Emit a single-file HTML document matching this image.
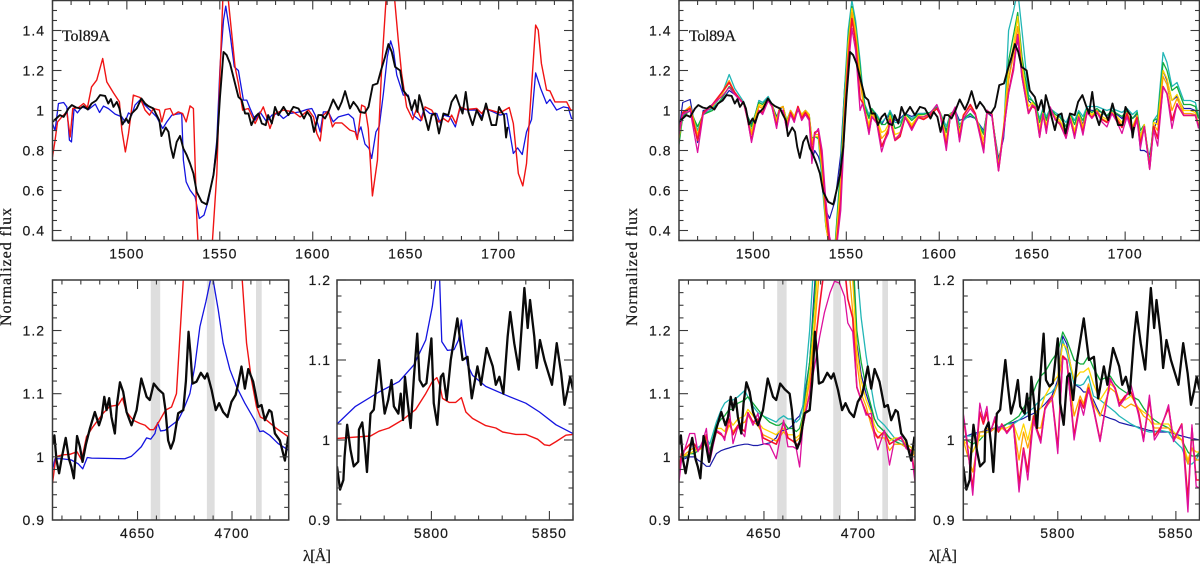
<!DOCTYPE html>
<html><head><meta charset="utf-8"><title>Tol89A spectra</title>
<style>
html,body{margin:0;padding:0;background:#fff;width:1200px;height:565px;overflow:hidden}
svg{display:block}
text{fill:#1a1a1a;stroke:#1a1a1a;stroke-width:.2px;font-family:"Liberation Sans",sans-serif;font-size:14px;letter-spacing:1px}
text.lab{font-family:"Liberation Serif",serif;font-size:16px;letter-spacing:0;stroke-width:.25px}
</style></head>
<body>
<svg id="chart" xmlns="http://www.w3.org/2000/svg" width="1200" height="565" viewBox="0 0 1200 565"></svg>
<script>
// ---------- UV panels (upper) ----------
const uvBlackLam=[1460,1462,1464,1466,1468.6,1470.4,1472.7,1475,1476.7,1479,
1481,1483.5,1485.6,1488.3,1490,1491.4,1492.8,1494.6,1496,1497.6,
1499.6,1500.9,1502.6,1505.3,1507.8,1509.8,1511.6,1514.3,1516,1517.5,
1518.6,1520.9,1522.4,1523.6,1525,1526.8,1528.6,1530.4,1532.2,1534,
1535.8,1537.6,1540.3,1543,1544.8,1546.6,1548.4,1550.1,1552,1553.7,
1555.5,1557.3,1560,1561.8,1563.6,1565.4,1567,1569,1570.8,1572.6,
1574.7,1576,1578,1579.7,1581.5,1584.3,1586.9,1589.6,1592.3,1595.3,
1597,1599,1600.7,1603,1604.8,1606.6,1608.4,1611,1613.8,1615.6,
1617.4,1620,1621.9,1624,1625.4,1628,1630,1632.3,1634.8,1636.7,
1638.9,1640.7,1642.5,1644.3,1647,1648.7,1651.4,1653.2,1655,1656.3,
1657.3,1658.6,1660.4,1662.2,1664,1665.8,1667.9,1670.3,1672.9,1674.7,
1677,1679.2,1680.6,1682.3,1683.7,1686,1688.2,1690.9,1693.2,1696.2,
1698.6,1700.2,1701.6,1702.9,1704,1704.8];
const uvBlackFlux=[.943,.96,.977,.968,1.01,1.027,1.015,1.01,1.022,1.005,
1.035,1.05,1.077,1.073,1.035,1.057,1.018,1.043,1.01,.93,
.96,.938,.985,1.01,1.06,1.035,1.022,1.01,.977,.95,
.872,.915,.893,.818,.763,.843,.873,.81,.777,.735,
.685,.593,.543,.53,.602,.677,.818,1.068,1.293,1.277,
1.235,1.168,1.068,1.052,.985,.985,.927,.968,.985,.935,
.927,.977,.935,1.018,.977,1.018,.977,1.018,1.01,.96,
.993,.968,.893,.977,.977,.96,.993,1.055,1.005,1.043,
1.097,1.01,1.043,1.018,.993,.988,1.018,1.127,1.135,1.2,
1.268,1.332,1.293,1.218,1.2,1.1,1.068,1.002,1.052,.993,
1.077,1.035,.968,.902,.977,.985,.885,.985,.977,1.043,
1.077,1.018,.985,1.093,.993,.927,1.002,.952,1.035,.927,
.927,1.018,.993,.977,.865,.918];

const uvBlueLam=[1460,1461.4,1463.2,1466,1467.7,1469.1,1470.2,1471.6,1473.4,1475.8,
1479.4,1483,1485.3,1487.4,1490,1493.7,1497.3,1499,1500.9,1502.6,
1504.4,1507,1510.7,1513.4,1516,1519.3,1521.5,1524.2,1526.8,1529.5,
1530.4,1531.9,1534,1536.7,1539,1541.5,1543.9,1546.6,1548.4,1550.1,
1552,1553.2,1555.5,1557.8,1560,1562.7,1564.5,1566.3,1569,1571.6,
1575.2,1578,1581.5,1584.2,1587.8,1593,1596.8,1599.5,1601.3,1604,
1605.7,1608.4,1611,1613.8,1619.2,1621.9,1623.7,1625.9,1628.1,1630.3,
1631.7,1634,1635.8,1638,1640.1,1641.9,1643.4,1645.2,1648.7,1651.4,
1654,1658,1659.9,1663,1666.7,1668.5,1670.6,1673.8,1676.7,1679.2,
1683.7,1688.2,1690.9,1692.7,1697.1,1700.7,1704.3,1706.1,1707.9,1710.2,
1712.7,1715,1717.7,1719.9,1722.6,1725.8,1727.6,1731.2,1734.8,1737.5,
1739.2,1740];
const uvBlueFlux=[.935,.9,1.035,1.04,1.018,.852,.843,1.01,.988,1.018,
1.005,1.032,.99,1.022,1.01,.982,.968,.943,.988,.977,
1.027,1.052,1.018,.993,.968,.91,.943,.977,.982,.985,
.752,.643,.602,.568,.46,.477,.552,.685,.852,1.218,
1.452,1.522,1.385,1.218,1.2,1.052,1.052,1.01,.952,.993,
.943,.977,.985,.96,.985,.993,1.005,1.01,.977,.893,
.993,.993,.943,.968,.982,.96,.868,.918,.832,.81,
.76,.893,.922,1.085,1.268,1.348,1.302,1.177,1.077,1.077,
.977,.948,1.01,.985,.985,.938,.977,.968,.918,1.01,
1.002,1.002,.968,1.01,.993,.977,.985,.885,.785,.813,
.78,.893,.955,1.188,1.11,1.035,1.055,1.002,1.018,1.013,
.96,.96];

const uvRedLam=[1460,1461.4,1462.7,1465,1467.7,1469.5,1470.9,1474,1476.7,1478.8,
1481,1483.8,1487,1489.2,1492.8,1496,1497.3,1499.2,1500.9,1503.5,
1507.1,1509.8,1512.2,1514.3,1517.5,1518.8,1520.6,1523.3,1525,1527.7,
1530,1531.9,1534,1535.8,1537.6,1538.5,1541.5,1545.7,1548.4,1550.1,
1551.6,1553,1554.6,1556.4,1558.2,1560,1562.3,1565.4,1569,1571.6,
1573.4,1575.2,1577,1579.7,1584.2,1589.6,1593.2,1597.7,1600.4,1602.2,
1604,1605.7,1608.4,1610.6,1612,1615.6,1620,1622.8,1624,1626.3,
1628.1,1629.9,1632.1,1634.8,1637.1,1639.4,1641.5,1644.1,1646,1647.8,
1650.5,1653.8,1655.9,1658.6,1660.4,1664,1667.6,1670.3,1672.9,1674.7,
1677,1679.2,1682.8,1688.2,1690.9,1692.7,1697.1,1700.7,1705.7,1707.9,
1710.6,1713,1715,1717.7,1719.9,1721.3,1723,1725.8,1727.6,1730.3,
1736.6,1738.8,1740];
const uvRedFlux=[.768,.852,.943,.968,.993,.868,1.01,1.015,1.035,1.015,
1.118,1.152,1.26,1.143,1.088,1.043,.902,.793,.885,1.077,
1.065,1.002,.977,1.01,1.002,.943,1.005,1.01,.977,.993,
.985,.943,1.023,1.01,.468,.3,.2,.3,.685,1.185,
1.55,1.62,1.55,1.385,1.218,1.135,1.002,1.01,.935,.985,
1.018,.968,.91,.985,1.002,.993,.968,1.002,.968,.885,
.848,.977,.998,.918,.938,.938,.902,.893,.855,1.027,
1.018,.91,.573,.752,1.218,1.55,1.7,1.55,1.352,1.185,
1.018,.955,1.01,.952,1.018,1.002,.943,.96,.943,.977,
.935,1.018,1.005,1.01,.985,1.01,.998,.988,1.015,.935,
.685,.623,.735,1.118,1.427,1.402,1.235,1.102,1.098,1.043,
1.043,1.002,1.002];

const uvModelLam=[1460,1462,1466,1470,1473,1478,1483,1487,1490,1495,
1497,1499,1501,1503,1505,1508,1510,1512.5,1514,1516,
1518,1520,1522,1524,1526,1528,1530,1531.5,1533,1535,
1537,1539,1541,1544,1547,1549,1551,1553,1555,1557.4,
1558.7,1560,1562.2,1563.7,1566.4,1569,1570.9,1572.6,1573.5,1576.2,
1578.9,1581.6,1585.2,1588.8,1591.6,1595,1598.7,1600.5,1603.8,1605.9,
1608.6,1610.9,1613,1616.7,1619.4,1623.9,1625.7,1628.3,1631.9,1634.6,
1637.3,1640,1642.2,1644.5,1648,1650,1651.7,1654,1655.8,1657.6,
1659.7,1662.4,1665,1668.2,1670.5,1672.8,1675,1677.3,1679.5,1682.1,
1684.8,1687.5,1690.2,1692.9,1695.6,1698.3,1701,1704,1706.4,1708.2,
1710.3,1713.2,1715.3,1717.5,1720.4,1722.5,1725.2,1727.9,1731.5,1735.1,
1737.8,1739.5];
const uvNavy=[.90,1.04,1.055,.84,1.0,1.01,1.05,1.10,1.08,1.03,
.97,.93,.98,1.05,1.04,1.06,1.03,.97,1.0,1.02,
.93,.99,.96,1.0,.98,.99,.98,.75,.80,.77,
.70,.50,.46,.55,.78,1.1,1.35,1.50,1.4,1.22,
1.1,1.0,.97,1.0,.98,.93,.96,.97,1.0,.95,
.96,.985,.97,.985,.985,.99,1.01,.98,.90,.98,
1.0,.95,.96,.97,.96,.90,.99,.97,.76,.86,
1.15,1.3,1.35,1.2,1.05,1.03,1.01,.96,1.0,.96,
1.01,.98,.97,.92,.97,.95,.98,.93,1.01,1.0,
1.0,.99,.97,1.0,.98,.96,1.0,.96,.98,.80,
.80,.78,.90,.96,1.2,1.15,1.05,1.07,1.01,1.01,
1.0,.96];
const uvTeal=[.85,.98,1.02,.90,.98,1.01,1.08,1.18,1.11,1.04,
.96,.90,.98,1.05,1.04,1.07,1.03,.95,1.01,1.02,
.94,1.0,.97,1.01,.98,1.0,.98,.84,.87,.86,
.63,.42,.35,.33,.74,1.1,1.4,1.55,1.45,1.25,
1.12,1.03,.98,1.01,.98,.94,.96,.98,1.0,.94,
.94,.985,.96,.985,.985,.99,1.02,.99,.92,.98,
1.0,.93,.95,.98,.96,.89,.995,.98,.74,.88,
1.4,1.5,1.6,1.4,1.08,1.05,1.03,.96,1.01,.97,
1.01,.99,.975,.94,.985,.95,1.0,.97,1.02,1.02,
1.02,1.01,1.0,1.01,1.0,.99,1.01,.98,1.0,.88,
.92,.74,.95,.98,1.29,1.24,1.12,1.14,1.05,1.05,
1.04,.97];
const uvGreen=[.83,.97,1.0,.92,.98,1.0,1.06,1.12,1.09,1.03,
.97,.92,.98,1.04,1.03,1.06,1.03,.96,1.01,1.02,
.95,1.0,.97,1.0,.98,1.0,.98,.86,.87,.86,
.68,.42,.32,.33,.7,1.05,1.36,1.52,1.42,1.22,
1.09,1.02,.96,1.01,.97,.93,.93,.95,.99,.91,
.92,.985,.95,.98,.98,.99,1.015,.99,.89,.985,
1.0,.91,.96,.985,.96,.88,.995,.985,.73,.90,
1.25,1.38,1.49,1.27,1.06,1.05,1.03,.94,1.0,.95,
1.01,.98,.965,.92,.98,.93,.99,.95,1.01,.99,
1.01,.99,.975,1.0,.985,.97,1.0,.96,.99,.90,
.93,.73,.95,.96,1.24,1.2,1.1,1.12,1.03,1.03,
1.02,.96];
const uvYellow=[.86,.99,1.02,.88,.99,1.02,1.08,1.14,1.09,1.03,
.96,.89,.97,1.03,1.02,1.06,1.03,.95,1.01,1.02,
.94,1.0,.97,1.02,.98,1.0,.98,.85,.87,.87,
.7,.43,.3,.3,.65,1.02,1.33,1.51,1.4,1.18,
1.07,1.0,.93,.995,.96,.89,.90,.93,.975,.88,
.89,.975,.93,.975,.97,.985,1.01,.99,.86,.98,
1.0,.89,.98,1.02,.98,.85,1.0,.985,.72,.92,
1.2,1.33,1.47,1.23,1.02,1.04,1.02,.91,.99,.93,
1.0,.97,.95,.89,.97,.90,.98,.92,1.0,.98,
1.0,.97,.955,.99,.97,.94,.99,.92,.975,.87,
.93,.72,.94,.93,1.2,1.16,1.05,1.08,1.0,1.0,
.99,.93];
const uvOrange=[.87,.99,1.02,.87,.99,1.02,1.09,1.15,1.09,1.03,
.96,.88,.96,1.02,1.01,1.06,1.03,.94,1.01,1.02,
.93,1.0,.96,1.02,.97,1.0,.97,.83,.88,.88,
.72,.46,.3,.28,.6,1.0,1.3,1.49,1.38,1.15,
1.06,1.0,.91,.985,.95,.86,.88,.91,.97,.86,
.88,.97,.92,.97,.96,.98,1.01,.985,.84,.975,
1.0,.87,.975,1.025,.98,.82,.995,.98,.71,.91,
1.15,1.28,1.42,1.2,.995,1.03,1.01,.89,.985,.91,
1.0,.96,.94,.875,.965,.885,.97,.91,.995,.97,
1.0,.96,.945,.99,.96,.925,.985,.91,.97,.85,
.92,.71,.93,.90,1.17,1.13,1.0,1.06,.985,.985,
.98,.92];
const uvCrimson=[.89,.99,1.01,.85,.99,1.03,1.09,1.14,1.09,1.03,
.95,.85,.94,1.0,.99,1.05,1.02,.92,1.0,1.0,
.91,.99,.95,1.02,.96,.99,.96,.78,.89,.9,
.76,.5,.33,.25,.55,.95,1.25,1.46,1.34,1.06,
1.04,.99,.89,.97,.94,.82,.86,.90,.955,.85,
.87,.965,.91,.965,.955,.975,1.01,.98,.82,.97,
1.0,.855,.975,1.03,.985,.80,.99,.98,.70,.90,
1.09,1.22,1.38,1.17,.985,1.02,1.01,.87,.98,.90,
1.01,.955,.93,.865,.955,.87,.965,.89,.99,.965,
.99,.955,.94,.985,.955,.915,.985,.90,.965,.83,
.92,.71,.92,.86,1.12,1.085,.95,1.03,.975,.975,
.975,.92];
const uvMagenta=[.88,.98,1.0,.79,.98,1.03,1.07,1.115,1.08,1.03,
.95,.84,.93,1.0,.98,1.05,1.02,.91,1.0,1.0,
.90,.98,.94,1.01,.95,.98,.95,.735,.88,.91,
.80,.55,.37,.25,.5,.9,1.2,1.41,1.3,1.0,
1.035,.99,.88,.968,.935,.793,.852,.885,.952,.852,
.885,.968,.90,.968,.968,.985,1.03,.985,.80,.968,
1.018,.843,.96,1.01,.977,.788,1.002,.977,.697,.893,
1.085,1.2,1.377,1.168,.985,1.027,1.018,.865,.985,.885,
1.018,.952,.935,.86,.96,.86,.968,.877,.993,.96,
.993,.943,.918,.985,.943,.885,.968,.88,.952,.81,
.918,.705,.902,.822,1.118,1.085,.91,1.035,.977,.977,
.977,.91];

// ---------- He II 4686 panels (lower centre) ----------
const heBlackLam=[4605,4606,4607.1,4608.5,4610,4612,4613.7,4615,4616.3,4618,
4619.5,4620.9,4622.7,4624.8,4627.4,4629.6,4631,4632.4,4633.6,4635,
4636.2,4638,4639.2,4640.7,4642.4,4644.2,4646.8,4649.5,4652,4654.8,
4656.5,4658.6,4661,4663.6,4664.8,4666.2,4667.6,4669.2,4671.5,4674.2,
4675.6,4677,4678,4679.1,4681.2,4683.5,4685.6,4686.9,4689.2,4691.4,
4693.2,4695.3,4697.6,4699.7,4701.9,4703.3,4705,4706.8,4708.6,4711.2,
4713.8,4715.6,4717.4,4719.7,4720.9,4722.7,4725.3,4728,4729.7];
const heBlackFlux=[1.02,1.034,.995,.974,1.0,1.03,.997,.984,.966,1.033,
1.016,.992,1.02,1.045,1.071,1.05,1.063,1.095,1.074,1.093,
1.063,1.037,1.085,1.118,1.103,1.071,1.05,1.074,1.124,1.095,
1.09,1.116,1.107,1.1,1.074,1.026,1.013,1.026,1.069,1.074,
1.12,1.198,1.164,1.116,1.119,1.133,1.124,1.132,1.106,1.074,
1.085,1.071,1.063,1.087,1.098,1.116,1.143,1.108,1.139,1.119,
1.079,1.082,1.058,1.074,1.071,1.037,1.026,.994,1.032];

const heBlueLam=[4605,4606.3,4610,4615,4618.6,4621,4623.4,4625.7,4643.3,4646.8,
4648.6,4652,4654.8,4657,4659.2,4660.6,4662.2,4664.5,4668,4671.5,
4674.2,4677.7,4680.3,4683,4686.2,4688.6,4689.3,4690,4692.7,4695.3,
4698.9,4702.4,4706.8,4712,4714.7,4716.5,4720,4724.4,4729.7];
const heBlueFlux=[.979,.997,.997,.995,.989,.981,.999,.998,.997,1.001,
1.006,1.016,1.03,1.028,1.037,1.054,1.041,1.042,1.05,1.058,
1.074,1.1,1.143,1.206,1.246,1.28,1.295,1.28,1.233,1.18,
1.138,1.111,1.085,1.058,1.04,1.041,1.034,1.021,1.011];

const heRedLam=[4605,4606.8,4610,4614.2,4618,4620.4,4623,4626.5,4631.8,4635.4,
4639.8,4642,4644.2,4647.7,4651.2,4654,4656.5,4658.6,4661.8,4664.8,
4668,4670.6,4672.4,4674.2,4680,4690,4700,4705.4,4707.7,4710.3,
4713,4715,4718.3,4723.5,4729.7];
const heRedFlux=[.958,1.0,1.003,1.004,1.008,.995,1.032,1.048,1.069,1.08,
1.082,1.093,1.071,1.058,1.053,1.05,1.043,1.043,1.058,1.074,
1.079,1.1,1.19,1.28,1.7,2.4,1.7,1.28,1.18,1.122,
1.079,1.063,1.058,1.045,1.032];

const heModelLam=[4605,4606.3,4610.7,4613.3,4615,4617.7,4619.5,4621.3,4624.8,4627.4,
4629.2,4631.5,4633.6,4636.2,4639.8,4641.5,4644.2,4646.8,4649.5,4653,
4656.5,4658,4660.4,4662.7,4665.3,4667.1,4668.9,4670.6,4674.2,4676.8,
4679.5,4682,4685,4687.4,4690,4692.7,4694.4,4697,4699.2,4701.5,
4704.1,4706.8,4708.5,4710.3,4713.8,4716.5,4719.1,4722.7,4725.3,4728,
4730];
const heNavy=[.97,.995,1.0,1.0,.995,.99,.985,.985,1.005,1.01,
1.012,1.014,1.016,1.018,1.02,1.02,1.018,1.018,1.02,1.022,
1.03,1.04,1.042,1.044,1.05,1.06,1.065,1.08,1.15,1.27,
1.4,1.6,1.7,1.75,1.7,1.55,1.4,1.3,1.18,1.13,
1.1,1.075,1.06,1.05,1.04,1.03,1.025,1.02,1.015,1.01,
1.005];
const heTeal=[.98,.995,1.005,1.01,1.015,1.02,1.03,1.02,1.055,1.075,
1.085,1.09,1.09,1.095,1.105,1.095,1.08,1.07,1.065,1.06,
1.055,1.06,1.065,1.06,1.06,1.055,1.06,1.08,1.2,1.33,
1.5,1.7,1.8,1.85,1.8,1.7,1.55,1.42,1.3,1.22,
1.16,1.11,1.08,1.06,1.05,1.04,1.03,1.025,1.02,1.015,
1.01];
const heGreen=[1.0,1.0,1.005,1.005,1.01,1.015,1.03,1.01,1.05,1.06,
1.065,1.075,1.075,1.085,1.09,1.095,1.085,1.075,1.065,1.055,
1.05,1.05,1.055,1.045,1.045,1.04,1.045,1.065,1.15,1.25,
1.4,1.6,1.7,1.75,1.7,1.6,1.45,1.33,1.2,1.15,
1.11,1.08,1.06,1.05,1.04,1.03,1.025,1.02,1.02,1.015,
1.01];
const heYellow=[.985,1.0,1.005,1.01,1.01,1.02,1.03,1.0,1.045,1.045,
1.04,1.06,1.05,1.06,1.065,1.075,1.065,1.055,1.045,1.04,
1.035,1.04,1.045,1.035,1.035,1.03,1.035,1.06,1.13,1.22,
1.35,1.5,1.6,1.65,1.6,1.5,1.38,1.28,1.17,1.12,
1.09,1.07,1.05,1.04,1.035,1.025,1.03,1.03,1.02,1.015,
1.005];
const heOrange=[.98,1.0,1.01,1.015,1.01,1.015,1.03,1.0,1.04,1.035,
1.03,1.05,1.04,1.05,1.055,1.065,1.055,1.05,1.035,1.03,
1.025,1.03,1.04,1.03,1.025,1.025,1.03,1.055,1.12,1.2,
1.3,1.45,1.55,1.6,1.55,1.45,1.32,1.23,1.15,1.1,
1.08,1.05,1.035,1.03,1.03,1.01,1.02,1.02,1.015,1.01,
1.0];
const heCrimson=[.98,1.005,1.02,1.02,1.01,1.02,1.035,1.0,1.04,1.035,
1.03,1.06,1.035,1.05,1.04,1.07,1.055,1.06,1.03,1.025,
1.02,1.03,1.055,1.03,1.025,1.02,1.02,1.05,1.1,1.17,
1.24,1.3,1.34,1.3,1.33,1.3,1.25,1.22,1.11,1.09,
1.07,1.06,1.04,1.03,1.04,1.02,1.025,1.03,1.015,1.01,
.97];
const heMagenta=[.96,.995,1.037,1.037,1.008,1.026,1.045,.992,1.042,1.037,
1.026,1.079,1.021,1.048,1.032,1.069,1.05,1.069,1.021,1.019,
.997,1.021,1.058,1.016,1.016,1.013,.984,1.048,1.1,1.143,
1.19,1.228,1.26,1.278,1.275,1.254,1.212,1.198,1.111,1.09,
1.066,1.069,1.032,1.011,1.042,.987,1.026,1.032,1.013,1.008,
.96];
const heBandStart=[4657,4686.7,4712.7];
const heBandEnd=[4662,4690.8,4715.7];

// ---------- C III/C IV 5800 panels (lower right) ----------
const cBlackLam=[5760,5761.3,5762.7,5763.2,5764.3,5765.7,5767.1,5769,5769.3,5770.7,
5771.7,5772.7,5774.2,5775.6,5777.8,5778.9,5780.2,5781.7,5783.1,5784.1,
5786,5787,5788,5788.8,5790,5791.2,5792.6,5794,5795,5796.5,
5797.9,5800,5801,5802.5,5804,5805,5806.5,5808.2,5811,5813.2,
5815.3,5817.1,5819.5,5821,5823.4,5826,5827.3,5828.8,5830.5,5832.3,
5833.4,5835.1,5837,5839.4,5840.8,5841.8,5843.6,5844.6,5846,5847.9,
5851.1,5853.1,5855,5856.4,5857.8,5858.8,5860];
const cBlackFlux=[.967,.938,.95,.979,1.019,.988,.967,.973,1.013,1.022,
.996,.96,1.033,1.038,1.1,1.067,1.033,1.05,1.075,1.042,
1.033,1.058,1.025,1.079,1.046,1.015,1.079,1.133,1.075,1.067,
1.071,1.127,1.046,1.019,1.079,1.083,1.05,1.1,1.152,1.1,
1.104,1.052,1.092,1.069,1.115,1.092,1.069,1.079,1.058,1.129,
1.16,1.121,1.088,1.19,1.14,1.175,1.129,1.09,1.125,1.1,
1.069,1.121,1.083,1.044,1.063,1.079,1.063];

const cBlueLam=[5760,5767.8,5777.8,5786.3,5792.6,5797.6,5800.4,5801.8,5802.6,5803.5,
5804.4,5806.8,5809.6,5811.5,5812.7,5813.9,5815.3,5817.4,5823,5831.6,
5840,5845.8,5852.8,5860];
const cBlueFlux=[1.02,1.042,1.06,1.073,1.094,1.125,1.167,1.2,1.26,1.2,
1.123,1.112,1.113,1.125,1.15,1.121,1.094,1.081,1.067,1.056,
1.046,1.035,1.019,1.008];

const cRedLam=[5760,5774.2,5777.8,5782,5787.7,5793.3,5797.6,5800.4,5802.3,5803.5,
5804.7,5807.5,5810.3,5812.7,5814.6,5817.4,5823,5827.3,5830.2,5835.8,
5840,5845,5847.9,5850,5852.8,5857,5860];
const cRedFlux=[1.002,1.005,1.011,1.015,1.025,1.038,1.058,1.073,1.078,1.069,
1.052,1.047,1.047,1.053,1.035,1.027,1.018,1.015,1.01,1.007,
1.007,1.001,.994,.993,.998,1.006,1.007];

const cModelLam=[5760,5761.4,5764,5767,5768.5,5770,5771.3,5773.4,5774.9,5776.3,
5778.4,5781.2,5783.6,5785.5,5787.3,5789.7,5791,5792.8,5794.6,5797.5,
5800,5802.1,5803.8,5806.9,5809.5,5810.9,5813,5815.1,5817.9,5822.2,
5824.3,5826,5828.5,5831,5834.2,5836.3,5838.8,5840.9,5843.4,5846.9,
5849,5852.5,5855.1,5856.8,5858.6,5860];
const cNavy=[1.003,1.005,1.008,1.01,1.011,1.012,1.014,1.015,1.016,1.017,
1.02,1.022,1.025,1.027,1.03,1.033,1.036,1.04,1.045,1.055,
1.075,1.13,1.12,1.07,1.065,1.06,1.06,1.05,1.032,1.027,
1.025,1.022,1.02,1.018,1.016,1.014,1.012,1.011,1.01,1.01,
1.008,1.005,1.003,1.002,1.001,1.0];
const cTeal=[1.005,1.005,1.005,1.01,1.01,1.01,1.01,1.015,1.015,1.015,
1.02,1.02,1.025,1.03,1.035,1.04,1.045,1.05,1.055,1.06,
1.07,1.125,1.11,1.07,1.068,1.07,1.08,1.055,1.05,1.04,
1.035,1.03,1.025,1.02,1.015,1.012,1.01,1.01,1.012,1.01,
1.0,.99,.97,.97,.975,.985];
const cGreen=[1.0,1.0,.995,1.0,1.005,1.01,1.01,1.015,1.015,1.015,
1.02,1.025,1.03,1.04,1.05,1.06,1.07,1.08,1.085,1.1,
1.11,1.135,1.125,1.1,1.095,1.095,1.105,1.09,1.075,1.08,
1.07,1.065,1.06,1.055,1.05,1.04,1.03,1.025,1.02,1.015,
1.01,1.0,.985,.98,.98,.985];
const cYellow=[1.0,.995,.985,1.005,1.005,1.01,1.01,1.015,1.01,1.015,
1.015,1.02,1.0,1.02,1.0,1.03,1.035,1.04,1.055,1.07,
1.08,1.12,1.115,1.075,1.085,1.085,1.09,1.07,1.05,1.07,
1.065,1.05,1.05,1.055,1.04,1.035,1.03,1.02,1.02,1.02,
1.01,1.0,.975,.99,.985,.985];
const cOrange=[1.0,.985,.96,1.01,1.01,1.015,1.01,1.015,1.01,1.015,
1.01,1.02,.975,1.01,.99,1.02,1.015,1.015,1.04,1.05,
1.07,1.105,1.1,1.03,1.055,1.045,1.07,1.045,1.03,1.065,
1.06,1.045,1.04,1.045,1.04,1.03,1.025,1.015,1.015,1.015,
1.005,1.0,.97,.99,.975,.975];
const cCrimson=[1.03,1.0,.94,1.035,1.02,1.035,1.01,1.025,1.01,1.02,
1.01,1.02,.945,.99,.96,1.03,1.015,1.0,1.04,1.055,
.99,1.105,1.1,1.005,1.05,1.04,1.065,1.04,1.0,1.075,
1.065,1.045,1.055,1.06,1.035,1.0,1.05,1.005,1.015,1.04,
1.0,1.02,.925,1.015,.95,.95];
const cMagenta=[1.033,1.004,.931,1.046,1.025,1.042,1.008,1.029,1.012,1.019,
1.008,1.019,.935,.988,.95,1.025,1.012,.996,1.038,1.054,
.983,1.102,1.1,1.0,1.046,1.031,1.063,1.038,.998,1.077,
1.063,1.042,1.052,1.069,1.031,.998,1.056,1.0,1.012,1.044,
.998,1.019,.91,1.019,.942,.94];

// ---------- tick labels ----------
const uvXLabels=[1500,1550,1600,1650,1700];
const uvYLabels=[0.4,0.6,0.8,1,1.2,1.4];
const heXLabels=[4650,4700];
const heYLabels=[0.9,1,1.1,1.2];
const cXLabels=[5800,5850];
const cYLabels=[0.9,1,1.1,1.2];

const svg=document.getElementById('chart');
const NS='http://www.w3.org/2000/svg';
const BLACK='#0a0a0a',BLUE='#1414e0',RED='#f01414';
const NAVY='#1a1aa8',TEAL='#22b6b6',GREEN='#12ad3c',YELLOW='#ffd400',ORANGE='#ffa400',CRIMSON='#f5102f',MAGENTA='#dd109c';
let clipCount=0;

function el(parent,tag){const e=document.createElementNS(NS,tag);parent.appendChild(e);return e;}

function panel(name,left,right,top,bottom,x0,x1,y0,y1,xMinor,xMajor,yMinor,yMajor,xLabels,yLabels,bands,series,labelRight){
  const sx=v=>left+(v-x0)*(right-left)/(x1-x0);
  const sy=v=>bottom-(v-y0)*(bottom-top)/(y1-y0);
  const g=el(svg,'g');
  
  
  const id='clip'+(++clipCount);
  const cp=el(g,'clipPath');cp.setAttribute('id',id);
  const cr=el(cp,'rect');cr.setAttribute('x',left);cr.setAttribute('y',top);cr.setAttribute('width',right-left);cr.setAttribute('height',bottom-top);
  // bands
  if(bands){
    for(let i=0;i<bands[0].length;i++){
      const r=el(g,'rect');
      
      
      r.setAttribute('x',sx(bands[0][i]));
      r.setAttribute('width',sx(bands[1][i])-sx(bands[0][i]));
      r.setAttribute('y',top);r.setAttribute('height',bottom-top);
      r.setAttribute('fill','#dedede');
    }
  }
  // series
  const sg=el(g,'g');sg.setAttribute('clip-path','url(#'+id+')');
  series.forEach(s=>{
    const p=el(sg,'path');
    
    
    let d='';
    for(let i=0;i<s.lam.length;i++){d+=(i?'L':'M')+sx(s.lam[i]).toFixed(2)+' '+sy(s.flux[i]).toFixed(2);}
    p.setAttribute('d',d);
    p.setAttribute('fill','none');
    p.setAttribute('stroke',s.color);
    p.setAttribute('stroke-width',s.w);
    p.setAttribute('stroke-linejoin','round');
  });
  // ticks
  const tg=el(g,'g');
  
  
  tg.setAttribute('stroke','#3a3a3a');tg.setAttribute('stroke-width','1.1');
  const startX=Math.ceil(x0/xMinor-1e-6)*xMinor;
  for(let v=startX;v<=x1+1e-6;v+=xMinor){
    const major=Math.abs(v/xMajor-Math.round(v/xMajor))<1e-6;
    const len=major?9:4.5;
    [[bottom,bottom-len],[top,top+len]].forEach(a=>{
      const t=el(tg,'line');t.setAttribute('x1',sx(v));t.setAttribute('x2',sx(v));t.setAttribute('y1',a[0]);t.setAttribute('y2',a[1]);
    });
  }
  const ny=Math.round((y1-y0)/yMinor);
  for(let i=0;i<=ny+1;i++){
    const v=Math.ceil(y0/yMinor-1e-6)*yMinor+i*yMinor;
    if(v>y1+1e-6)break;
    const q=v/yMajor;
    const major=Math.abs(q-Math.round(q))<1e-6;
    const len=major?9:4.5;
    [[left,left+len],[right,right-len]].forEach(a=>{
      const t=el(tg,'line');t.setAttribute('y1',sy(v));t.setAttribute('y2',sy(v));t.setAttribute('x1',a[0]);t.setAttribute('x2',a[1]);
    });
  }
  // frame
  const f=el(g,'rect');
  
  
  f.setAttribute('x',left);f.setAttribute('y',top);f.setAttribute('width',right-left);f.setAttribute('height',bottom-top);
  f.setAttribute('fill','none');f.setAttribute('stroke','#3a3a3a');f.setAttribute('stroke-width','1.5');
  // labels
  xLabels.forEach(v=>{
    const t=el(g,'text');
    
    
    t.setAttribute('x',sx(v));t.setAttribute('y',bottom+18);t.setAttribute('text-anchor','middle');
    t.textContent=v;
  });
  yLabels.forEach(v=>{
    const t=el(g,'text');
    
    
    t.setAttribute('x',labelRight);t.setAttribute('y',sy(v)+5);t.setAttribute('text-anchor','end');
    t.textContent=v;
  });
}

function uvLeft(){return [
  {name:'blue-model-uv',lam:uvBlueLam,flux:uvBlueFlux,color:BLUE,w:1.3},
  {name:'red-model-uv',lam:uvRedLam,flux:uvRedFlux,color:RED,w:1.4},
  {name:'observed-spectrum-uv',lam:uvBlackLam,flux:uvBlackFlux,color:BLACK,w:1.9}];}
function mix(lam,n,t,g,y,o,c,m,bl,bf,tag,bw){return [
  {name:'navy-model-'+tag,lam:lam,flux:n,color:NAVY,w:1.2},
  {name:'teal-model-'+tag,lam:lam,flux:t,color:TEAL,w:1.3},
  {name:'green-model-'+tag,lam:lam,flux:g,color:GREEN,w:1.3},
  {name:'yellow-model-'+tag,lam:lam,flux:y,color:YELLOW,w:1.3},
  {name:'orange-model-'+tag,lam:lam,flux:o,color:ORANGE,w:1.3},
  {name:'red-model-'+tag,lam:lam,flux:c,color:CRIMSON,w:1.6},
  {name:'magenta-model-'+tag,lam:lam,flux:m,color:MAGENTA,w:1.3},
  {name:'observed-spectrum-'+tag,lam:bl,flux:bf,color:BLACK,w:bw}];}

panel('uv-panel-left',52.5,573,0.5,240.5,1460,1740,0.35,1.55,10,50,0.05,0.2,uvXLabels,uvYLabels,null,uvLeft(),45);
panel('uv-panel-right',679,1199.5,0.5,240.5,1460,1740,0.35,1.55,10,50,0.05,0.2,uvXLabels,uvYLabels,null,
  mix(uvModelLam,uvNavy,uvTeal,uvGreen,uvYellow,uvOrange,uvCrimson,uvMagenta,uvBlackLam,uvBlackFlux,'uv',1.9),671.5);
panel('heii-panel-left',52.5,288.7,280,520,4605,4730,0.9,1.28,10,50,0.02,0.1,heXLabels,heYLabels,[heBandStart,heBandEnd],[
  {name:'blue-model-heii',lam:heBlueLam,flux:heBlueFlux,color:BLUE,w:1.3},
  {name:'red-model-heii',lam:heRedLam,flux:heRedFlux,color:RED,w:1.4},
  {name:'observed-spectrum-heii',lam:heBlackLam,flux:heBlackFlux,color:BLACK,w:2.3}],45);
panel('civ-panel-left',337,573,280,520,5760,5860,0.9,1.2,10,50,0.02,0.1,cXLabels,cYLabels,null,[
  {name:'blue-model-civ',lam:cBlueLam,flux:cBlueFlux,color:BLUE,w:1.3},
  {name:'red-model-civ',lam:cRedLam,flux:cRedFlux,color:RED,w:1.4},
  {name:'observed-spectrum-civ',lam:cBlackLam,flux:cBlackFlux,color:BLACK,w:2.3}],331);
panel('heii-panel-right',679,915,280,520,4605,4730,0.9,1.28,10,50,0.02,0.1,heXLabels,heYLabels,[heBandStart,heBandEnd],
  mix(heModelLam,heNavy,heTeal,heGreen,heYellow,heOrange,heCrimson,heMagenta,heBlackLam,heBlackFlux,'heii',2.3),671.5);
panel('civ-panel-right',963.3,1199.5,280,520,5760,5860,0.9,1.2,10,50,0.02,0.1,cXLabels,cYLabels,null,
  mix(cModelLam,cNavy,cTeal,cGreen,cYellow,cOrange,cCrimson,cMagenta,cBlackLam,cBlackFlux,'civ',2.3),955.5);

function label(txt,x,y,name,len,rot){
  const t=el(svg,'text');
  
  
  t.setAttribute('class','lab');
  t.setAttribute('x',x);t.setAttribute('y',y);
  if(len){t.setAttribute('textLength',len);t.setAttribute('lengthAdjust','spacing');}
  if(rot){t.setAttribute('transform','rotate(-90 '+x+' '+y+')');}
  t.textContent=txt;
}
label('Tol89A',62,41,'object-label-left',48);
label('Tol89A',689,41,'object-label-right',47);
label('Normalized  flux',11,326,'y-axis-title-left',118,true);
label('Normalized  flux',637,326,'y-axis-title-right',118,true);
label('λ[Å]',303,561,'x-axis-title-left',28);
label('λ[Å]',929,561,'x-axis-title-right',28);
</script>
</body></html>
